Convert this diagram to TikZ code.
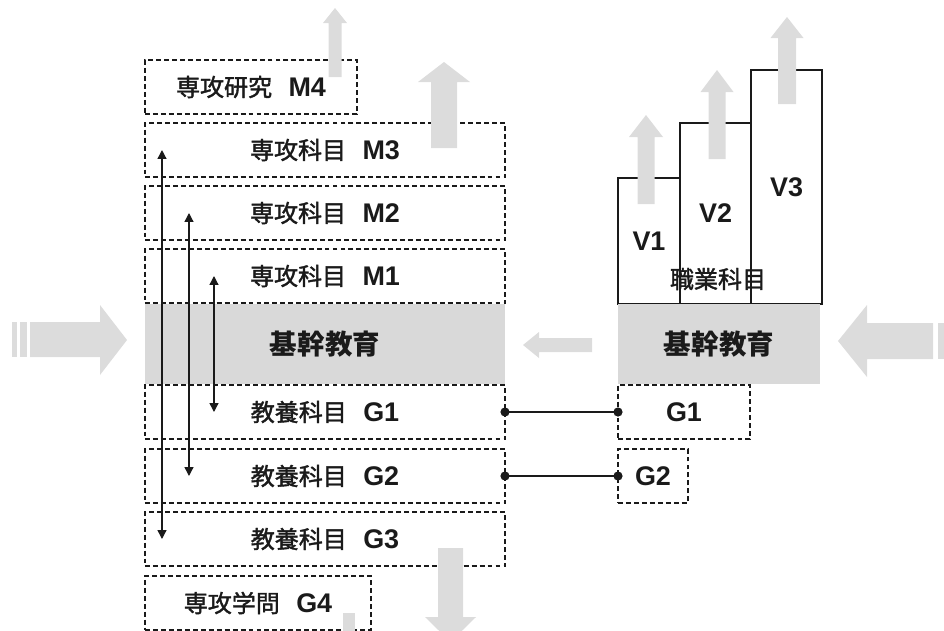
\documentclass[tikz,border=0pt]{standalone}
\usepackage{fontspec}
\newfontfamily\jp[FakeBold=1.6]{Noto Sans CJK JP}
\newfontfamily\jpb{Noto Sans CJK JP}
\newfontfamily\latin{Liberation Sans}
\usetikzlibrary{arrows.meta}
\definecolor{ink}{HTML}{1A1A1A}
\definecolor{core}{HTML}{D9D9D9}
\definecolor{liftgrey}{HTML}{DCDCDC}
\tikzset{
  every node/.style={text=ink,inner sep=0pt,outer sep=0pt},
  band/.style={draw=ink,dash pattern=on 4.2pt off 2.6pt,line width=.9pt,
               minimum height=1.62cm},
  corebox/.style={fill=core,minimum height=2.4cm,
                  font=\jpb\bfseries\fontsize{23.5}{26}\selectfont},
  tier/.style={draw=ink,line width=1.1pt,font=\latin\bfseries\fontsize{23}{26}\selectfont},
  jplabel/.style={font=\jp\fontsize{20.5}{24}\selectfont},
  code/.style={font=\latin\bfseries\fontsize{23}{26}\selectfont},
  span/.style={{Triangle[length=7.5pt,width=7.5pt]}-{Triangle[length=7.5pt,width=7.5pt]},
               draw=ink,line width=1.1pt},
  tie/.style={draw=ink,line width=1.1pt},
  dot/.style={fill=ink},
  lift/.style={fill=liftgrey},
}
% subject label: Japanese name, then its code
\newcommand{\subj}[2]{{\jp\fontsize{20.5}{24}\selectfont #1}\hspace{14pt}%
  {\latin\bfseries\fontsize{23}{26}\selectfont #2}}
% upward block arrow: centre x, tip y, head base y, bottom y, shaft half, head half
\newcommand{\liftarrow}[6]{%
  \fill[lift] (#1-#5,#4) -- (#1-#5,#3) -- (#1-#6,#3) -- (#1,#2)
    -- (#1+#6,#3) -- (#1+#5,#3) -- (#1+#5,#4) -- cycle;}

\begin{document}
\begin{tikzpicture}[x=.03cm,y=-.03cm]      % one unit per pixel, y down
\path[use as bounding box] (0,0) rectangle (944,630);

% Left column: research and majors above the core, liberal arts below it.
\node[band,minimum width=6.36cm] (m4) at (251,87) {\subj{専攻研究}{M4}};
\node[band,minimum width=10.8cm] (m3) at (325,150) {\subj{専攻科目}{M3}};
\node[band,minimum width=10.8cm] (m2) at (325,213) {\subj{専攻科目}{M2}};
\node[band,minimum width=10.8cm] (m1) at (325,276) {\subj{専攻科目}{M1}};
\node[corebox,minimum width=10.8cm] (lcore) at (325,344) {基幹教育};
\node[band,minimum width=10.8cm] (lg1) at (325,412) {\subj{教養科目}{G1}};
\node[band,minimum width=10.8cm] (lg2) at (325,476) {\subj{教養科目}{G2}};
\node[band,minimum width=10.8cm] (lg3) at (325,539) {\subj{教養科目}{G3}};
\node[band,minimum width=6.78cm] (g4) at (258,603) {\subj{専攻学問}{G4}};

% Each major level pairs with the liberal-arts level the same distance away.
\draw[span] ([xshift=.51cm]m3.west) -- ([xshift=.51cm]lg3.west);
\draw[span] ([xshift=1.32cm]m2.west) -- ([xshift=1.32cm]lg2.west);
\draw[span] ([xshift=2.07cm]m1.west) -- ([xshift=2.07cm]lg1.west);

% Right column: vocational steps on top of the same core.
\node[tier,minimum width=1.86cm,minimum height=3.78cm] (v1) at (649,241) {V1};
\node[tier,minimum width=2.13cm,minimum height=5.43cm] (v2) at (715.5,213.5) {V2};
\node[tier,minimum width=2.13cm,minimum height=7.02cm] (v3) at (786.5,187) {V3};
\node[jplabel] (voc) at (718,279) {職業科目};
\node[corebox,minimum width=6.06cm] (rcore) at (719,344) {基幹教育};
\node[band,minimum width=3.96cm] (rg1) at (684,412) {};
\node[code] at (rg1) {G1};
\node[band,minimum width=2.1cm] (rg2) at (653,476) {};
\node[code] at (rg2) {G2};
\draw[tie] (lg1.east) -- (rg1.west);
\draw[tie] (lg2.east) -- (rg2.west);
\foreach \pin in {lg1.east,rg1.west,lg2.east,rg2.west}
  \fill[dot] (\pin) circle (4.6);

% Grey block arrows, drawn last so they sit over the box edges.
\liftarrow{335}{8}{23}{77}{6.5}{12}
\liftarrow{444}{62}{82}{148}{13}{26}
\liftarrow{646}{115}{137}{204}{8.5}{17}
\liftarrow{717}{70}{92}{159}{8.5}{16.5}
\liftarrow{787}{17}{38}{104}{9}{16.5}
\fill[lift] (438,548) -- (438,617) -- (425,617) -- (450.5,642) -- (476,617)
  -- (463,617) -- (463,548) -- cycle;
\fill[lift] (343,613) rectangle (355,632);
% inflow from the left, the small return arrow, inflow from the right
\fill[lift] (12,322) rectangle (17,357);
\fill[lift] (20,322) rectangle (27,357);
\fill[lift] (30,322) -- (100,322) -- (100,305) -- (127,340) -- (100,375)
  -- (100,357) -- (30,357) -- cycle;
\fill[lift] (592,338) -- (539,338) -- (539,332) -- (523,345) -- (539,358)
  -- (539,352) -- (592,352) -- cycle;
\fill[lift] (933,323) -- (867,323) -- (867,305) -- (838,341) -- (867,377)
  -- (867,359) -- (933,359) -- cycle;
\fill[lift] (938,323) rectangle (950,359);

\end{tikzpicture}
\end{document}
